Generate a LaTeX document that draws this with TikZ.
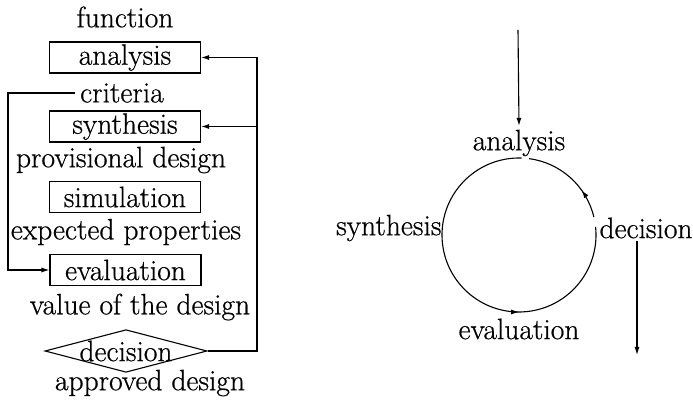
\documentclass[tikz,border=0pt]{standalone}
\usepackage{fontspec}
\setmainfont{Latin Modern Roman}[FakeBold=0.6]
\usetikzlibrary{shapes.geometric,arrows.meta,decorations.markings}
\begin{document}
\begin{tikzpicture}[x=1pt,y=1pt,font=\fontsize{29.5}{35}\selectfont,line width=1.1pt,
  box/.style={draw,minimum width=151pt,minimum height=31pt,inner sep=0pt},
  lbl/.style={inner sep=0pt},
  tip/.style={-{Latex[length=8pt,width=5pt]}},
  midtip/.style={decoration={markings,mark=at position #1 with {\arrow{Latex[length=8pt,width=5pt]}}},postaction=decorate}]
\useasboundingbox (0,0) rectangle (693,401);
% left flow
\node[lbl] (fun) at (125,384) {function};
\node[box] (ana) at (125,343.5) {analysis};
\node[lbl] (cri) at (122,308) {criteria};
\node[box] (syn) at (125,274.5) {synthesis};
\node[lbl] (pro) at (121,241) {provisional design};
\node[box] (sim) at (125,204) {simulation};
\node[lbl] (exp) at (126,169) {expected properties};
\node[box] (eva) at (125.5,131) {evaluation};
\node[lbl] (val) at (140,94) {value of the design};
\node[draw,diamond,aspect=3.8,inner sep=-1pt] (dec) at (126,50) {decision};
\node[lbl] (app) at (150,18) {approved design};
\coordinate (lx) at (8,131);
\coordinate (rx) at (257,0);
\draw[tip] ([xshift=-5pt]cri.west) -| (lx) -- (eva.west);
\draw[tip] (dec.east) -- (dec.east -| rx) |- (ana.east);
\draw[tip] (syn.east -| rx) -- (syn.east);
% right cycle
\coordinate (C) at (519,166);
\coordinate (topin) at (518,371);
\node (ra) at (519,258) {analysis};
\node[lbl,anchor=east] (rs) at (442,173) {synthesis};
\node[lbl,anchor=west] (rd) at (599,173) {decision};
\node (re) at (519,72) {evaluation};
\coordinate (out) at (637,46);
\draw[tip] (topin) -- (ra.north);
\draw[midtip=0.655] ([shift={(88:77)}]C) arc (88:366:77);
\draw[midtip=0.32] ([shift={(13.5:77)}]C) arc (13.5:82.5:77);
\draw[tip] (rd.south -| out) ++(0,-2) -- (out);
\end{tikzpicture}
\end{document}
